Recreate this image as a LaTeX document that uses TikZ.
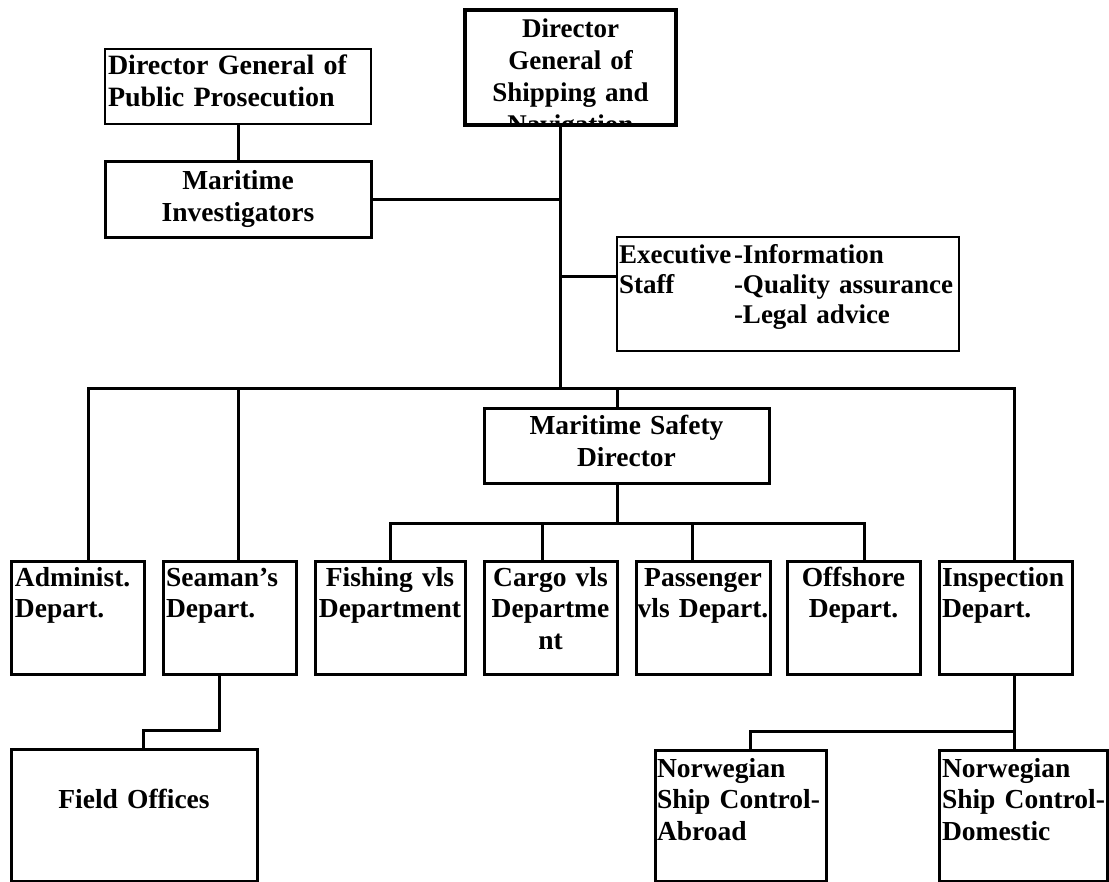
\documentclass[tikz,border=0pt]{standalone}
\usepackage{fontspec}
\setmainfont{Liberation Serif}
\begin{document}
\begin{tikzpicture}[x=1pt,y=-1pt,
  box/.style={draw, rectangle, line width=3pt, inner sep=0pt, outer sep=0pt},
  thinbox/.style={box, line width=1.5pt},
  thickbox/.style={box, line width=4.5pt},
  ln/.style={line width=3pt, line join=miter},
  txt/.style={inner sep=0pt, outer sep=0pt, font=\fontsize{27.5}{31.7}\selectfont\bfseries},
  ltxt/.style={txt, anchor=base west, text width=260pt, align=left},
  ctxt/.style={txt, anchor=base, text width=280pt, align=center},
]
\fill[white] (0,0) rectangle (1109,882);
\useasboundingbox (0,0) rectangle (1109,882);

% ---- boxes ----
\node[thinbox, minimum width=266pt, minimum height=75pt] (pp) at (238,86.5) {};
\node[thickbox, minimum width=211pt, minimum height=115pt] (dgs) at (570.5,67.5) {};
\node[box, minimum width=266pt, minimum height=76pt] (mi) at (238,200) {};
\node[box, line width=2.5pt, minimum width=342pt, minimum height=114pt] (exec) at (788,294) {};
\node[box, minimum width=285pt, minimum height=75pt] (msd) at (626.5,446.5) {};
\node[box, minimum width=133pt, minimum height=113pt] (admin) at (77.5,617.5) {};
\node[box, minimum width=133pt, minimum height=113pt] (seaman) at (229.5,617.5) {};
\node[box, minimum width=150pt, minimum height=113pt] (fishing) at (390,617.5) {};
\node[box, minimum width=133pt, minimum height=113pt] (cargo) at (550.5,617.5) {};
\node[box, minimum width=134pt, minimum height=113pt] (passenger) at (703,617.5) {};
\node[box, minimum width=133pt, minimum height=113pt] (offshore) at (853.5,617.5) {};
\node[box, minimum width=133pt, minimum height=113pt] (insp) at (1005.5,617.5) {};
\node[box, minimum width=246pt, minimum height=132pt] (field) at (134,815) {};
\node[box, minimum width=171pt, minimum height=131pt] (abroad) at (740.5,815.5) {};
\node[box, minimum width=168pt, minimum height=131pt] (domestic) at (1023,815.5) {};

% ---- texts ----
\node[ltxt, font=\fontsize{28}{32}\selectfont\bfseries] (ppt) at (108,75) {Director General of\\Public Prosecution};
\begin{scope}
  \clip (467.5,12.5) rectangle (673.5,122.5);
  \node[ctxt, font=\fontsize{27}{32}\selectfont\bfseries] (dgst) at (570.5,38) {Director\\General of\\Shipping and\\Navigation};
\end{scope}
\node[ctxt] (mit) at (238,190) {Maritime\\Investigators};
\node[ltxt, font=\fontsize{27}{30}\selectfont\bfseries] (exa) at (619,264) {Executive\\Staff};
\node[ltxt, font=\fontsize{27}{30}\selectfont\bfseries] (exb) at (734,264) {-Information\\-Quality assurance\\-Legal advice};
\node[ctxt] (msdt) at (626.5,435) {Maritime Safety\\Director};
\node[ltxt] (admint) at (15,586) {Administ.\\Depart.};
\node[ltxt] (seamant) at (166,586) {Seaman’s\\Depart.};
\node[ctxt] (fishingt) at (390,586) {Fishing vls\\Department};
\node[ctxt] (cargot) at (550.5,586) {Cargo vls\\Departme\\nt};
\node[ctxt] (passengert) at (703,586) {Passenger\\vls Depart.};
\node[ctxt] (offshoret) at (853.5,586) {Offshore\\Depart.};
\node[ltxt] (inspt) at (942,586) {Inspection\\Depart.};
\node[ctxt] (fieldt) at (134,808) {Field Offices};
\node[ltxt] (abroadt) at (657,777) {Norwegian\\Ship Control-\\Abroad};
\node[ltxt] (domestict) at (942,777) {Norwegian\\Ship Control-\\Domestic};

% ---- junction coordinates ----
\coordinate (trunk) at (560,389);
\coordinate (ex) at (560,277);
\coordinate (bL) at (88,389);
\coordinate (bS) at (238,389);
\coordinate (bM) at (617,389);
\coordinate (bR) at (1014,389);
\coordinate (sM) at (617,523);
\coordinate (sF) at (390,523);
\coordinate (sC) at (542,523);
\coordinate (sP) at (692,523);
\coordinate (sO) at (864,523);
\coordinate (f1) at (219,730);
\coordinate (f2) at (143,730);
\coordinate (i1) at (1014,731);
\coordinate (i2) at (750,731);

% ---- connectors ----
\draw[ln] (pp.south) -- (mi.north);
\draw[ln] (dgs.south -| trunk) -- (trunk);
\draw[ln] (mi.east) -- (mi.east -| trunk);
\draw[ln] (ex) -- (ex -| exec.west);
\draw[ln] (admin.north -| bL) -- (bL) -- (bR) -- (insp.north -| bR);
\draw[ln] (bS) -- (seaman.north -| bS);
\draw[ln] (bM) -- (msd.north -| bM);
\draw[ln] (msd.south -| sM) -- (sM);
\draw[ln] (fishing.north -| sF) -- (sF) -- (sO) -- (offshore.north -| sO);
\draw[ln] (sC) -- (cargo.north -| sC);
\draw[ln] (sP) -- (passenger.north -| sP);
\draw[ln] (seaman.south -| f1) -- (f1) -- (f2) -- (field.north -| f2);
\draw[ln] (insp.south -| i1) -- (domestic.north -| i1);
\draw[ln] (i1) -- (i2) -- (abroad.north -| i2);
\end{tikzpicture}
\end{document}
